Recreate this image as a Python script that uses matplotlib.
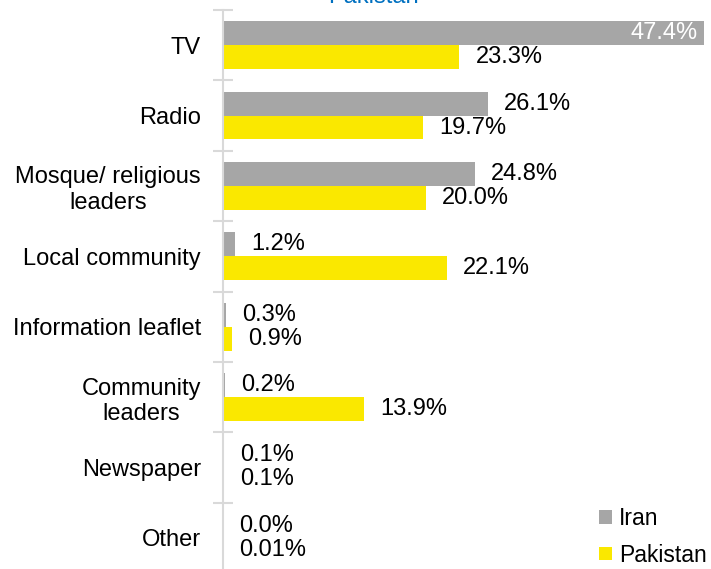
import numpy as np
import matplotlib
matplotlib.use("Agg")
import matplotlib.pyplot as plt

plt.rcParams['font.family'] = ['Liberation Sans', 'DejaVu Sans']

# data
categories = ["TV", "Radio", "Mosque/ religious\nleaders", "Local community",
              "Information leaflet", "Community\nleaders", "Newspaper", "Other"]
iran = [47.4, 26.1, 24.8, 1.2, 0.3, 0.2, 0.1, 0.0]
pakistan = [23.3, 19.7, 20.0, 22.1, 0.9, 13.9, 0.1, 0.01]
iran_labels = ["47.4%", "26.1%", "24.8%", "1.2%", "0.3%", "0.2%", "0.1%", "0.0%"]
pak_labels = ["23.3%", "19.7%", "20.0%", "22.1%", "0.9%", "13.9%", "0.1%", "0.01%"]

grey = "#A6A6A6"
yellow = "#FAE800"

fig = plt.figure(figsize=(7.11, 5.69), dpi=100)
ax = fig.add_axes([223/711, 1 - 573/569, 488/711, 563/569])

y = np.arange(len(categories))
h = 0.34
ax.barh(y - h/2, iran, height=h, color=grey, label="Iran")
ax.barh(y + h/2, pakistan, height=h, color=yellow, label="Pakistan")

ax.set_xlim(0, 48.1)
ax.set_ylim(len(categories) - 0.5, -0.5)

# data labels
for i in range(len(categories)):
    if iran[i] > 40:
        ax.annotate(iran_labels[i], (iran[i], y[i] - h/2), xytext=(-6, 0),
                    textcoords="offset pixels", ha="right", va="center",
                    fontsize=17, color="white")
    else:
        ax.annotate(iran_labels[i], (iran[i], y[i] - h/2), xytext=(16, 0),
                    textcoords="offset pixels", ha="left", va="center",
                    fontsize=17, color="#000000")
    ax.annotate(pak_labels[i], (pakistan[i], y[i] + h/2), xytext=(16, 0),
                textcoords="offset pixels", ha="left", va="center",
                fontsize=17, color="#000000")

ax.set_yticks(y)
ax.set_yticklabels(categories, fontsize=17, multialignment="center")
ax.tick_params(axis="y", which="major", length=0, pad=16)
ax.set_yticks(np.arange(len(categories) + 1) - 0.5, minor=True)
ax.tick_params(axis="y", which="minor", direction="inout", length=15,
               color="#D9D9D9", width=1.5)
ax.set_xticks([])

for s in ["top", "right", "bottom"]:
    ax.spines[s].set_visible(False)
ax.spines["left"].set_color("#D9D9D9")
ax.spines["left"].set_linewidth(1.5)

fig.text(373/711, 1 - 3/569, "Pakistan", ha="center", va="baseline",
         fontsize=17, color="#0070C0")

ax.legend(loc="lower left", bbox_to_anchor=(588/711, -9/569),
          bbox_transform=fig.transFigure, frameon=False, fontsize=16.5,
          handlelength=0.55, handleheight=0.55, handletextpad=0.3,
          labelspacing=0.6, borderpad=0)

fig.savefig("out.png", dpi=100)
